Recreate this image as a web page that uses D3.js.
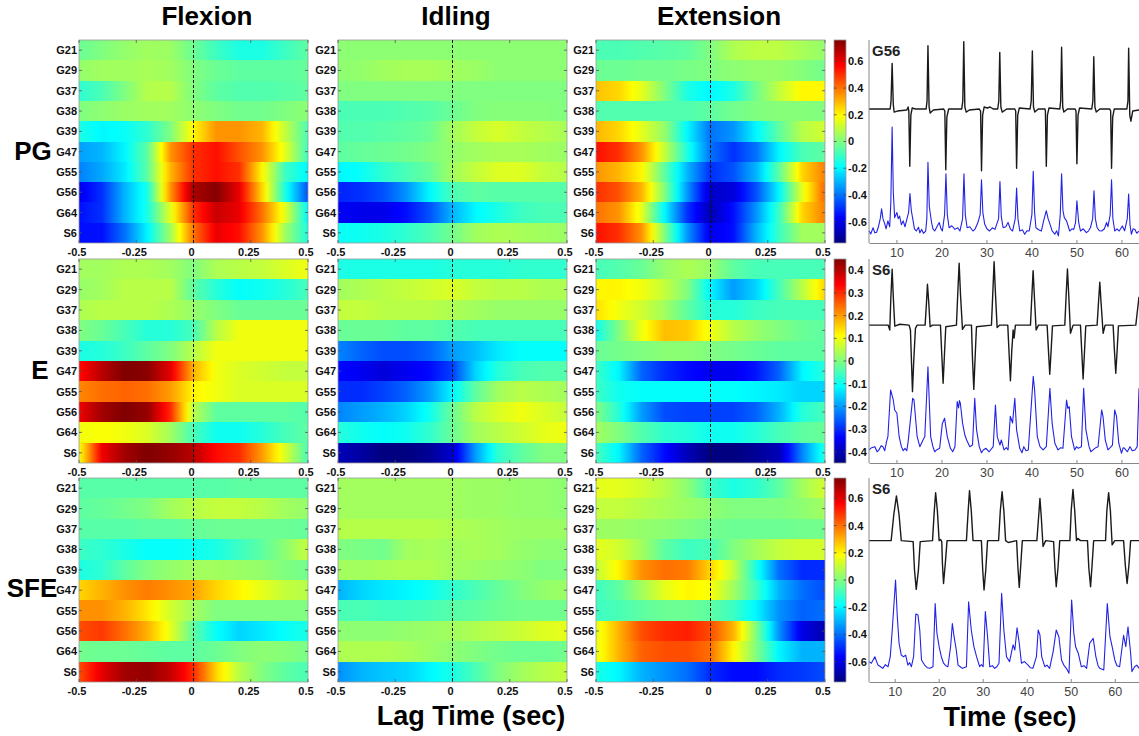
<!DOCTYPE html>
<html><head><meta charset="utf-8">
<script src="https://cdn.jsdelivr.net/npm/d3@7"></script>
<style>body{margin:0;background:#fff}svg{display:block}</style>
</head><body>
<svg id="chart" width="1139" height="736"></svg>
<script>
// ---------------- DATA ----------------
const channels = ["G21","G29","G37","G38","G39","G47","G55","G56","G64","S6"];
const lags = [-0.5,-0.4,-0.3,-0.2,-0.1,0,0.1,0.2,0.3,0.4,0.5];
const lagTicks = [-0.5,-0.25,0,0.25,0.5];
const conditions = ["Flexion","Idling","Extension"];
const groups = ["PG","E","SFE"];
const colorLimits = [0.76, 0.45, 0.75];
const colorbarTicks = [
  [-0.6,-0.4,-0.2,0,0.2,0.4,0.6],
  [-0.4,-0.3,-0.2,-0.1,0,0.1,0.2,0.3,0.4],
  [-0.6,-0.4,-0.2,0,0.2,0.4,0.6]
];
const timeTicks = [10,20,30,40,50,60];
const traceNames = ["G56","S6","S6"];

// PG row
const pgFlexion = [
  [-0.03,0,0.03,0.05,0.04,-0.03,-0.1,-0.15,-0.15,-0.1,-0.05],
  [0.03,0.05,0.05,0.06,0.05,0,-0.03,-0.05,-0.05,-0.05,-0.04],
  [-0.12,-0.08,0,0.08,0.08,0,-0.05,-0.07,-0.07,-0.06,-0.05],
  [0,0.02,0.04,0.05,0.05,0.02,0,-0.02,-0.02,0,0.02],
  [-0.15,-0.2,-0.18,-0.12,0.0,0.2,0.35,0.35,0.3,0.1,-0.08],
  [-0.33,-0.3,-0.2,-0.05,0.35,0.5,0.55,0.45,0.35,0.15,-0.1],
  [-0.38,-0.32,-0.22,-0.05,0.3,0.5,0.55,0.5,0.2,-0.1,-0.2],
  [-0.6,-0.5,-0.3,-0.15,0.35,0.7,0.75,0.6,0.25,-0.15,-0.45],
  [-0.55,-0.5,-0.3,-0.15,0.15,0.5,0.65,0.6,0.4,0.15,-0.2],
  [-0.55,-0.55,-0.4,-0.2,0.05,0.4,0.6,0.55,0.35,0.05,-0.15]
];
const pgIdling = [
  [0.02,0.02,0.02,0.02,0.02,0.02,0.02,0.02,0.02,0.02,0.02],
  [0.02,0.03,0.05,0.06,0.06,0.05,0.04,0.02,0.02,0.02,0.02],
  [0,0,0,0,0,0,0,0,0,0,0],
  [-0.08,-0.08,-0.08,-0.07,-0.06,-0.03,0,0.01,0.01,0.01,0],
  [-0.07,-0.07,-0.06,-0.05,-0.03,0.05,0.1,0.13,0.1,0.08,0.06],
  [-0.05,-0.04,-0.03,-0.02,0,0.03,0.05,0.06,0.06,0.05,0.04],
  [-0.2,-0.18,-0.12,-0.08,-0.04,0.05,0.1,0.14,0.14,0.1,0.08],
  [-0.52,-0.5,-0.45,-0.35,-0.2,-0.08,-0.05,-0.06,-0.06,-0.06,-0.06],
  [-0.58,-0.6,-0.6,-0.55,-0.45,-0.3,-0.2,-0.15,-0.1,-0.08,-0.08],
  [-0.18,-0.17,-0.15,-0.12,-0.08,-0.02,0.05,0.07,0.06,0.05,0.04]
];
const pgExtension = [
  [-0.08,-0.08,-0.07,-0.06,-0.05,0,0.07,0.09,0.09,0.06,0.03],
  [-0.03,-0.03,-0.02,-0.02,-0.01,0,0.02,0.03,0.03,0.01,-0.02],
  [0.28,0.25,0.15,0,-0.15,-0.2,-0.15,-0.02,0.1,0.2,0.2],
  [-0.07,-0.07,-0.07,-0.07,-0.07,-0.05,-0.02,0,0.01,0.01,0],
  [0.3,0.25,0.15,0.03,-0.2,-0.4,-0.35,-0.2,-0.05,0.08,0.12],
  [0.55,0.5,0.35,0.1,-0.15,-0.4,-0.5,-0.4,-0.2,-0.08,-0.05],
  [0.35,0.3,0.2,-0.05,-0.3,-0.5,-0.45,-0.3,-0.05,0.25,0.38],
  [0.5,0.45,0.3,0,-0.35,-0.65,-0.62,-0.45,-0.2,0.15,0.42],
  [0.4,0.35,0.15,-0.2,-0.5,-0.68,-0.55,-0.35,-0.1,0.25,0.38],
  [0.55,0.5,0.35,0,-0.35,-0.6,-0.55,-0.3,-0.1,0.05,0.05]
];
// E row
const eFlexion = [
  [0.03,0.03,0.04,0.04,0.03,0,0.04,0.05,0.06,0.08,0.1],
  [0.02,0.03,0.05,0.05,0.05,-0.03,-0.08,-0.11,-0.1,-0.08,-0.05],
  [0.04,0.05,0.05,0.05,0.04,0.02,0,-0.02,-0.02,-0.02,-0.02],
  [0,-0.02,-0.05,-0.08,-0.08,-0.05,0.05,0.1,0.1,0.1,0.1],
  [-0.09,-0.08,-0.06,-0.03,0,0.05,0.1,0.1,0.1,0.1,0.1],
  [0.33,0.4,0.45,0.44,0.36,0.18,0.1,0.08,0.07,0.06,0.06],
  [0.22,0.24,0.25,0.24,0.2,0.12,0.1,0.08,0.08,0.08,0.08],
  [0.35,0.42,0.45,0.43,0.3,0.05,-0.03,-0.03,-0.03,-0.03,-0.04],
  [0.1,0.11,0.1,0.08,0.03,-0.05,-0.1,-0.1,-0.08,-0.05,-0.03],
  [0.1,0.35,0.42,0.45,0.43,0.4,0.33,0.3,0.2,0.08,-0.05]
];
const eIdling = [
  [-0.09,-0.09,-0.09,-0.09,-0.09,-0.08,-0.08,-0.08,-0.07,-0.07,-0.07],
  [0.03,0.04,0.05,0.06,0.07,0.08,0.06,0.05,0.05,0.04,0.04],
  [0.06,0.06,0.05,0.05,0.05,0.04,0.03,0.02,0.02,0.02,0.02],
  [-0.02,-0.02,-0.02,-0.03,-0.03,-0.04,-0.05,-0.05,-0.05,-0.05,-0.05],
  [-0.22,-0.25,-0.27,-0.27,-0.25,-0.2,-0.17,-0.13,-0.11,-0.11,-0.11],
  [-0.33,-0.35,-0.37,-0.35,-0.33,-0.28,-0.15,-0.08,-0.05,-0.04,-0.04],
  [-0.3,-0.3,-0.28,-0.25,-0.2,-0.12,-0.03,0.03,0.05,0.04,0.03],
  [-0.22,-0.2,-0.18,-0.15,-0.1,-0.02,0.05,0.08,0.1,0.08,0.06],
  [-0.08,-0.1,-0.11,-0.1,-0.07,-0.02,0.03,0.05,0.07,0.09,0.1],
  [-0.4,-0.42,-0.45,-0.45,-0.43,-0.38,-0.2,-0.07,-0.03,0,0]
];
const eExtension = [
  [-0.05,-0.04,-0.02,0.02,0.04,0.02,-0.03,-0.05,-0.05,-0.05,-0.05],
  [0.12,0.12,0.1,0.06,0,-0.12,-0.2,-0.15,-0.05,0.05,0.15],
  [0.14,0.1,0.07,0.03,-0.03,-0.08,-0.08,-0.06,-0.05,-0.05,-0.05],
  [-0.1,0,0.1,0.17,0.16,0.1,0.05,0.02,0,-0.02,-0.03],
  [-0.02,-0.01,0,0.01,0.01,0,-0.01,-0.02,-0.03,-0.03,-0.03],
  [-0.06,-0.12,-0.25,-0.3,-0.33,-0.35,-0.35,-0.32,-0.25,-0.12,-0.08],
  [-0.06,-0.1,-0.11,-0.11,-0.11,-0.11,-0.11,-0.12,-0.13,-0.15,-0.15],
  [0,-0.08,-0.2,-0.27,-0.28,-0.28,-0.28,-0.25,-0.18,-0.08,-0.05],
  [0.03,0,-0.04,-0.07,-0.08,-0.1,-0.1,-0.08,-0.05,-0.03,-0.02],
  [-0.05,-0.12,-0.25,-0.33,-0.4,-0.45,-0.45,-0.43,-0.4,-0.22,-0.08]
];
// SFE row
const sfeFlexion = [
  [-0.06,-0.06,-0.06,-0.06,-0.06,-0.06,-0.06,-0.05,-0.05,-0.05,-0.05],
  [-0.05,-0.04,-0.02,0,0.05,0.08,0.1,0.1,0.08,0.05,0.03],
  [-0.06,-0.06,-0.06,-0.05,-0.05,-0.04,-0.03,-0.03,-0.03,-0.03,-0.04],
  [-0.1,-0.12,-0.15,-0.18,-0.18,-0.17,-0.15,-0.1,-0.05,0.02,0.1],
  [-0.15,-0.12,-0.05,0,0.03,0.05,0.05,0.04,0.03,0,-0.02],
  [0.25,0.3,0.35,0.38,0.35,0.32,0.25,0.2,0.15,0.1,0.08],
  [0.35,0.35,0.3,0.22,0.12,0.05,0,0,0,0,0],
  [0.45,0.48,0.4,0.3,0.15,-0.05,-0.18,-0.25,-0.22,-0.18,-0.15],
  [-0.02,-0.03,-0.03,-0.04,-0.05,-0.05,-0.03,0,0.02,0.01,-0.01],
  [0.45,0.6,0.7,0.72,0.65,0.5,0.25,0.08,0,-0.05,-0.08]
];
const sfeIdling = [
  [0.05,0.05,0.05,0.05,0.05,0.05,0.04,0.04,0.03,0.03,0.02],
  [0.05,0.05,0.05,0.05,0.05,0.05,0.04,0.04,0.03,0.03,0.02],
  [0.08,0.08,0.08,0.08,0.08,0.07,0.06,0.05,0.04,0.04,0.04],
  [0,-0.01,-0.02,0.05,0.06,0.05,0.06,0.05,0.03,0.02,0.02],
  [0.05,0.05,0.06,0.07,0.07,0.05,0.04,0.03,0.02,0,0],
  [-0.3,-0.25,-0.22,-0.2,-0.17,-0.12,-0.08,-0.04,0,0.03,0.04],
  [-0.08,-0.08,-0.09,-0.09,-0.08,-0.06,-0.05,-0.03,-0.02,-0.02,-0.02],
  [0.02,0.02,0.02,0.03,0.04,0.05,0.07,0.09,0.11,0.14,0.15],
  [0.07,0.07,0.07,0.06,0.04,0.02,0,-0.02,-0.03,-0.03,-0.02],
  [-0.35,-0.3,-0.27,-0.25,-0.2,-0.15,-0.08,0,0.05,0.08,0.1]
];
const sfeExtension = [
  [0.15,0.15,0.12,0.08,0.02,-0.1,-0.15,-0.12,-0.05,0.05,0.12],
  [0.1,0.1,0.08,0.06,0.04,0.02,0,0,0,0.02,0.05],
  [0.04,0.04,0.03,0.02,0,-0.02,-0.03,-0.03,-0.03,-0.02,-0.02],
  [0.15,0.12,0.05,-0.05,-0.1,-0.08,0,0.05,0.1,0.12,0.12],
  [0.1,0.2,0.35,0.4,0.38,0.25,0.1,-0.15,-0.4,-0.5,-0.5],
  [-0.1,-0.05,0.05,0.15,0.2,0.18,0.05,-0.1,-0.3,-0.4,-0.45],
  [-0.1,-0.08,-0.05,-0.03,-0.03,-0.05,-0.1,-0.2,-0.35,-0.42,-0.4],
  [0.15,0.3,0.45,0.5,0.52,0.45,0.3,0,-0.35,-0.6,-0.68],
  [0.15,0.3,0.42,0.45,0.45,0.4,0.2,0,-0.2,-0.3,-0.3],
  [-0.15,-0.2,-0.3,-0.35,-0.4,-0.5,-0.55,-0.55,-0.5,-0.48,-0.45]
];

// Time traces: [time (sec), amplitude (arbitrary units 0-100)]
const pgTimeDomain = [3.9, 63.9];
const eTimeDomain = [3.9, 63.9];
const sfeTimeDomain = [4.17, 65.5];

const pgBlack = [[3.9,66],[8.6,66],[8.8,70],[9.04,88.5],[9.3,68],[9.5,64.5],[10.2,65],[12.3,65.5],[12.6,67],[12.75,65],[12.96,37.8],[13.2,63],[13.5,66.5],[14.2,66],[16.6,66],[16.8,70],[17.0,97.2],[17.25,67],[17.5,64],[18.2,65.5],[20.5,66],[20.75,65],[20.96,36.1],[21.2,62],[21.6,66],[24.5,66],[24.75,70],[24.96,99.2],[25.2,67],[25.5,64.5],[26.2,65.5],[28.4,66],[28.7,65],[28.9,35.6],[29.15,63],[29.5,67],[30.2,66.5],[30.8,67],[31.5,66],[32.5,66],[32.75,70],[32.96,93.9],[33.2,67],[33.5,64.5],[34.5,66],[36.3,66],[36.5,65],[36.7,36.8],[36.95,63],[37.3,66.5],[39.7,66],[39.95,70],[40.2,94.6],[40.45,67],[40.75,64.5],[41.5,66],[43.0,66],[43.1,65],[43.3,37.8],[43.55,63],[43.9,66.5],[46.3,66],[46.5,70],[46.7,96.4],[46.95,67],[47.2,64.5],[48.0,66],[49.7,66],[49.9,65],[50.1,39],[50.35,63],[50.7,66.5],[53.4,66],[53.65,70],[53.85,91.8],[54.1,67],[54.4,64.5],[55.2,66],[57.4,66],[57.6,65],[57.8,36.8],[58.05,62],[58.4,66],[61.2,66],[61.45,70],[61.6,95.9],[61.85,63],[62.1,60],[62.5,65],[63.9,65.5]];
const pgBlue = [[3.9,6],[4.3,4.5],[4.8,7.5],[5.2,5],[5.6,5.3],[6.0,8],[6.4,12],[6.7,16.8],[7.0,12],[7.4,9.4],[7.7,7],[8.1,10.9],[8.5,8],[8.75,20],[9.04,57.1],[9.3,25],[9.6,12.5],[10.1,15.0],[10.4,12],[10.7,13.3],[11.1,9],[11.5,10.9],[11.9,8],[12.4,12.5],[12.7,15],[13.0,24.4],[13.3,16],[13.7,10.9],[14.0,7],[14.4,5.9],[14.9,7.8],[15.2,5],[15.6,6.7],[16.0,4.8],[16.5,5.9],[16.75,12],[17.0,39.8],[17.3,18],[17.8,10.1],[18.1,7],[18.5,5.9],[19.0,8],[19.5,10.1],[19.9,7],[20.2,5.9],[20.7,14],[21.0,34.1],[21.3,14],[21.7,7.5],[22.3,8.5],[23.0,6.7],[23.6,7.5],[24.1,5.9],[24.7,12],[25.0,34.1],[25.3,14],[25.7,7.5],[26.3,8],[27.0,5.9],[27.5,7],[28.1,10.1],[28.6,14],[28.9,31.1],[29.2,15],[29.6,9.4],[30.1,7],[30.7,5.9],[31.3,7.5],[31.9,6.7],[32.7,12],[33.0,30.3],[33.3,13],[33.7,7.5],[34.3,8],[34.8,10.1],[35.3,7],[35.8,5.9],[36.4,12],[36.7,27.1],[37.0,12],[37.4,5.9],[38.0,6.5],[38.5,4.3],[39.0,6],[39.5,5.9],[40.1,14],[40.4,35.3],[40.7,15],[41.0,7.5],[41.6,6.5],[42.2,5.9],[42.7,10.9],[43.3,15.9],[43.7,12],[44.1,9.4],[44.6,6],[45.2,4.3],[45.6,6],[46.0,3.5],[46.4,14],[46.7,34.1],[47.0,16],[47.3,12.5],[47.8,10.9],[48.2,8],[48.5,5.9],[49.0,7],[49.4,6.7],[49.8,10],[50.1,20.8],[50.5,10],[50.9,5.9],[51.5,7],[52.2,5.1],[52.7,6],[53.1,7.5],[53.6,12],[53.9,25.7],[54.2,12],[54.6,7.5],[55.1,6],[55.6,5.9],[56.2,7],[56.7,10.1],[57.0,8],[57.5,14],[57.8,31.1],[58.1,12],[58.5,5.9],[59.0,7],[59.5,5.9],[60.2,8.4],[60.7,6],[61.3,12],[61.6,24.1],[61.9,9],[62.2,4.3],[62.6,7],[63.0,6.7],[63.4,4.8],[63.9,5.9]];

const eBlack = [[3.9,67.6],[8.15,67.6],[8.52,65.2],[8.74,80],[9.04,95],[9.33,80],[9.63,67.1],[10.74,68],[12.81,67.6],[13.11,65.2],[13.33,50.4],[13.56,35],[13.85,50.4],[14.22,66],[14.59,67.6],[16.37,67.6],[16.67,78.3],[16.89,87.6],[17.19,78.3],[17.48,66.8],[18.0,67.6],[19.78,67.6],[20.07,53.3],[20.37,39.1],[20.67,53.3],[20.96,66.8],[23.33,67.6],[23.63,83.2],[23.93,97.9],[24.22,83.2],[24.67,65.5],[25.26,67.6],[26.67,67.6],[26.89,51.6],[27.19,36.1],[27.48,51.6],[27.78,66.8],[31.11,67.6],[31.41,83.2],[31.70,98.7],[32.0,83.2],[32.37,66.4],[32.96,67.6],[34.74,67.6],[35.04,53.3],[35.33,40.3],[35.63,55.1],[35.93,65.2],[36.15,61.3],[36.44,67.6],[39.78,67.6],[40.07,80.9],[40.37,94.3],[40.67,80.9],[41.04,65.2],[41.56,67.6],[43.48,67.6],[43.78,55.1],[44.07,43.5],[44.37,55.1],[44.67,67.2],[47.41,67.6],[47.70,81.7],[48.0,95.1],[48.30,81.7],[48.67,63.6],[49.26,67.6],[50.89,67.6],[51.19,54.2],[51.48,41.2],[51.78,54.2],[52.07,67.2],[54.59,67.6],[54.89,78.3],[55.19,88.6],[55.48,78.3],[55.93,63.6],[56.37,67.6],[58.15,67.6],[58.44,55.1],[58.74,44],[59.04,55.1],[59.33,67.2],[63.19,67.6],[63.56,74.9],[63.9,81.5]];
const eBlue = [[3.9,6.4],[4.5,7.5],[5.2,8.0],[5.7,5.5],[6.1,6.4],[6.6,8.5],[7.0,8.0],[7.4,6],[7.8,10.5],[8.1,12.9],[8.7,35.8],[9.3,30.9],[9.6,26.0],[10.1,24.4],[10.6,12.9],[11.1,8.0],[11.5,6],[11.9,7.2],[12.3,6],[12.6,10.5],[13.6,31.7],[13.9,30.9],[14.6,12.9],[15.2,8.0],[15.9,11.3],[16.3,12.9],[17.0,47.2],[17.6,12.9],[18.1,8.0],[18.5,5.5],[18.9,6.4],[19.6,7.2],[20.2,19.4],[20.7,21.9],[21.3,12.9],[22.0,7.2],[22.5,5.5],[23.0,8.0],[23.5,30.1],[23.8,27],[24.0,30.6],[24.2,29.3],[24.7,19.4],[25.2,13.7],[25.6,11.3],[26.3,8.0],[26.9,8.8],[27.4,31.7],[27.8,16.2],[28.4,8.0],[28.9,5],[29.3,6.4],[29.9,7.2],[30.6,5.5],[31.5,8.0],[32.0,28.4],[32.4,12.9],[33.0,8.8],[33.3,11.3],[33.9,6.4],[34.4,7.5],[34.8,6.4],[35.3,22.9],[35.8,19.6],[36.3,31.7],[36.7,16.2],[37.4,7.2],[37.9,5],[38.3,8.0],[38.8,6],[39.3,6.4],[40.4,42.5],[40.7,35.8],[41.3,12.9],[41.9,8.0],[42.6,6.4],[43.3,8.0],[44.1,36.6],[44.6,19.4],[45.2,9.7],[45.9,6.4],[46.5,7.5],[47.0,7.2],[47.8,30.9],[48.1,26.8],[48.4,27.6],[48.9,12.9],[49.6,6.4],[50.0,8],[50.4,7.2],[51.1,8],[51.6,36.6],[52.1,16.2],[52.8,8.0],[53.2,5.5],[53.7,6.4],[54.3,7.5],[54.8,8.0],[55.6,26.0],[55.9,22.9],[56.4,11.3],[57.0,6.4],[57.5,7.5],[58.0,8.8],[58.5,26.0],[58.9,22.9],[59.4,9.7],[60.0,4.8],[60.4,7.5],[60.7,7.2],[61.3,5.5],[61.9,8.0],[62.4,6],[63.0,6.4],[63.5,8],[63.9,36.6]];

const sfeBlack = [[4.17,69.3],[9.2,69.3],[9.8,82],[10.4,91.2],[11.0,82],[11.5,69.3],[14.2,68.8],[14.5,55],[14.9,45.4],[15.4,55],[15.8,68.8],[18.6,69.3],[19.0,84],[19.3,92.8],[19.7,84],[20.1,69.3],[20.4,69.9],[20.7,68.8],[20.85,58],[21.1,48.3],[21.5,58],[21.9,69.3],[26.3,69.3],[26.7,84],[27.0,93.8],[27.4,84],[27.8,69.3],[29.7,69.3],[30.0,55],[30.3,45.1],[30.7,55],[31.1,69.3],[33.6,69.3],[34.0,84],[34.4,93.3],[34.8,84],[35.2,69.3],[35.8,68.4],[37.7,69.3],[38.0,56],[38.3,46.4],[38.6,56],[39.0,69.3],[42.3,69.3],[42.7,81],[43.0,90],[43.3,81],[43.7,66.4],[44.3,69.3],[46.1,68.8],[46.4,56],[46.7,46.7],[47.1,56],[47.5,69.3],[49.8,69.3],[50.1,84],[50.5,94.4],[50.9,84],[51.3,69.3],[51.6,70.4],[52.2,69.3],[53.8,69.3],[54.1,56],[54.5,46.7],[54.8,56],[55.2,69.3],[57.9,69.3],[58.2,84],[58.6,92.8],[59.0,84],[59.4,67.2],[60.0,69.3],[62.0,69.3],[62.4,57],[62.8,48.3],[63.2,57],[63.6,69.3],[65.5,69.3]];
const sfeBlue = [[4.17,10],[4.7,9.2],[5.5,12.4],[6.2,8.3],[6.8,7.5],[7.3,6.7],[7.9,8.5],[8.5,7.5],[9.0,12.4],[9.5,27.1],[10.2,50],[10.6,32],[11.0,19],[11.5,13.2],[12.0,12.4],[12.5,13.2],[13.0,8.3],[13.4,9.5],[13.8,7.5],[14.3,12.4],[14.8,33.3],[15.3,32.8],[15.7,25.5],[16.1,10.8],[16.8,8.3],[17.4,7],[18.0,6.7],[18.7,7.5],[19.2,38.5],[19.6,23.9],[20.1,17.3],[20.6,12.4],[21.1,9.2],[21.6,8],[22.1,7.5],[22.7,17.3],[23.1,28.7],[23.5,22.2],[24.0,15.7],[24.4,8.3],[24.9,7.5],[25.4,6.7],[26.3,7.5],[26.8,39.3],[27.4,25.5],[28.0,17.3],[28.6,12.4],[29.3,7.5],[29.7,8.5],[30.1,7.5],[30.6,34.5],[31.1,22.2],[31.6,7.5],[32.2,8],[32.7,6.7],[33.2,7.5],[33.7,9.2],[34.3,43.5],[34.8,25.5],[35.4,12.4],[36.1,10],[36.9,18.2],[37.3,15.7],[37.8,26.6],[38.3,19],[38.8,9.2],[39.5,10],[40.3,8.3],[40.8,7],[41.4,6.7],[42.2,12.4],[42.6,25.5],[43.0,23.1],[43.4,12.4],[44.1,7.5],[44.6,8.3],[45.2,6.7],[46.0,14.9],[46.7,25.5],[47.3,22.2],[47.9,10.8],[48.5,8],[49.0,6.7],[49.6,4.3],[50.2,40.2],[50.7,23.9],[51.1,17.3],[51.7,14.1],[52.4,7.5],[53.0,8],[53.6,6.7],[54.3,19],[55.1,21.4],[55.7,12.4],[56.2,8],[56.6,6.7],[57.5,5.9],[58.3,38.5],[58.9,22.2],[59.4,17.3],[60.0,10.8],[60.5,8],[61.1,7.5],[62.0,22.9],[62.5,17.3],[63.0,27.1],[63.6,14.1],[63.9,5.1],[64.5,7.5],[65.0,8.3],[65.5,6.7]];

// ---------------- LAYOUT ----------------
const svg = d3.select("#chart");
const heatX = [[79,308],[338,567],[596,825]];
const rowY = [[40,243],[259,463],[478,682]];
const cbX = [834,846];
const tsX = [869,1139];
const FONT = "Arial, 'Liberation Sans', Helvetica, sans-serif";

function jet(t){
  t = Math.max(0, Math.min(1, t));
  const c = x => Math.max(0, Math.min(1, x));
  const r = c(Math.min(4*t-1.5, -4*t+4.5));
  const g = c(Math.min(4*t-0.5, -4*t+3.5));
  const b = c(Math.min(4*t+0.5, -4*t+2.5));
  return d3.rgb(r*255, g*255, b*255).formatHex();
}

const defs = svg.append("defs");
const heatData = [[pgFlexion,pgIdling,pgExtension],[eFlexion,eIdling,eExtension],[sfeFlexion,sfeIdling,sfeExtension]];
const traces = [[pgBlack,pgBlue],[eBlack,eBlue],[sfeBlack,sfeBlue]];
const timeDomains = [pgTimeDomain, eTimeDomain, sfeTimeDomain];

heatData.forEach((panels, ri) => {
  const L = colorLimits[ri];
  const color = d3.scaleSequential(jet).domain([-L, L]);
  const y = d3.scaleBand().domain(channels).range(rowY[ri]);
  const [top, bottom] = rowY[ri];

  panels.forEach((mat, ci) => {
    const x = d3.scaleLinear().domain([-0.5, 0.5]).range(heatX[ci]);
    const g = svg.append("g");
    const span = x(0.5) - x(-0.5);
    mat.forEach((vals, k) => {
      const id = `grad-${ri}-${ci}-${k}`;
      const stops = [];
      for (let i = 0; i < lags.length; i++) {
        stops.push([lags[i], vals[i]]);
        if (i < lags.length - 1) {
          for (let s = 1; s < 5; s++) {
            const f = s / 5;
            stops.push([lags[i] + (lags[i+1]-lags[i])*f, vals[i] + (vals[i+1]-vals[i])*f]);
          }
        }
      }
      defs.append("linearGradient").attr("id", id)
        .attr("gradientUnits", "userSpaceOnUse")
        .attr("x1", x(-0.5)).attr("x2", x(0.5)).attr("y1", 0).attr("y2", 0)
        .selectAll("stop").data(stops).join("stop")
        .attr("offset", d => (x(d[0]) - x(-0.5)) / span)
        .attr("stop-color", d => color(d[1]));
      g.append("rect")
        .attr("class", "cell")
        .attr("x", x(-0.5)).attr("y", y(channels[k]))
        .attr("width", span).attr("height", y.bandwidth())
        .attr("shape-rendering", "crispEdges")
        .attr("fill", `url(#${id})`);
    });
    // frame
    g.append("rect").attr("x", x(-0.5)).attr("y", top).attr("width", span).attr("height", bottom-top)
      .attr("fill", "none").attr("stroke", "#9a9a9a").attr("stroke-width", 0.8);
    // ticks
    lagTicks.forEach(t => {
      g.append("line").attr("x1", x(t)).attr("x2", x(t)).attr("y1", top).attr("y2", top+3).attr("stroke", "#555").attr("stroke-width", 0.8);
      g.append("line").attr("x1", x(t)).attr("x2", x(t)).attr("y1", bottom).attr("y2", bottom-3).attr("stroke", "#555").attr("stroke-width", 0.8);
    });
    channels.forEach(ch => {
      const cy = y(ch) + y.bandwidth()/2;
      g.append("line").attr("x1", x(-0.5)).attr("x2", x(-0.5)+3).attr("y1", cy).attr("y2", cy).attr("stroke", "#555").attr("stroke-width", 0.8);
      g.append("line").attr("x1", x(0.5)).attr("x2", x(0.5)-3).attr("y1", cy).attr("y2", cy).attr("stroke", "#555").attr("stroke-width", 0.8);
    });
    // dashed zero-lag line
    g.append("line").attr("x1", x(0)).attr("x2", x(0)).attr("y1", top).attr("y2", bottom)
      .attr("stroke", "#111").attr("stroke-width", 1).attr("stroke-dasharray", "3,2");
    // y labels
    g.selectAll("text.yl").data(channels).join("text").attr("class", "yl")
      .attr("x", x(-0.5) - 2).attr("y", d => y(d) + y.bandwidth()/2)
      .attr("dy", "0.36em").attr("text-anchor", "end")
      .attr("font-family", FONT).attr("font-weight", "bold").attr("font-size", 11).attr("fill", "#111")
      .text(d => d);
    // x labels
    g.selectAll("text.xl").data(lagTicks).join("text").attr("class", "xl")
      .attr("x", d => x(d) - 2).attr("y", bottom + 13)
      .attr("text-anchor", "middle")
      .attr("font-family", FONT).attr("font-weight", "bold").attr("font-size", 11).attr("fill", "#111")
      .text(d => d === 0 ? "0" : String(d));
  });

  // colorbar
  const cy = d3.scaleLinear().domain([-L, L]).range([bottom, top]);
  const cid = `cbar-${ri}`;
  const cstops = d3.range(0, 1.0001, 1/32);
  defs.append("linearGradient").attr("id", cid)
    .attr("x1", 0).attr("x2", 0).attr("y1", 1).attr("y2", 0)
    .selectAll("stop").data(cstops).join("stop")
    .attr("offset", d => d).attr("stop-color", d => jet(d));
  svg.append("rect").attr("x", cbX[0]).attr("y", top).attr("width", cbX[1]-cbX[0]).attr("height", bottom-top)
    .attr("fill", `url(#${cid})`).attr("stroke", "#9a9a9a").attr("stroke-width", 0.8);
  colorbarTicks[ri].forEach(v => {
    svg.append("line").attr("x1", cbX[1]).attr("x2", cbX[1]-2.5).attr("y1", cy(v)).attr("y2", cy(v)).attr("stroke", "#444").attr("stroke-width", 0.8);
    svg.append("line").attr("x1", cbX[0]).attr("x2", cbX[0]+2.5).attr("y1", cy(v)).attr("y2", cy(v)).attr("stroke", "#444").attr("stroke-width", 0.8);
  });
  svg.append("g").selectAll("text").data(colorbarTicks[ri]).join("text")
    .attr("x", cbX[1] + 2).attr("y", d => cy(d)).attr("dy", "0.36em")
    .attr("font-family", FONT).attr("font-weight", "bold").attr("font-size", 11).attr("fill", "#111")
    .text(d => String(d));

  // time-series panel
  const tx = d3.scaleLinear().domain(timeDomains[ri]).range(tsX);
  const ty = d3.scaleLinear().domain([0, 100]).range([bottom, top]);
  const tg = svg.append("g");
  const line = d3.line().x(d => tx(d[0])).y(d => ty(d[1]));
  tg.append("path").datum(traces[ri][1]).attr("d", line).attr("fill", "none")
    .attr("stroke", "#2222e6").attr("stroke-width", 1.1).attr("stroke-linejoin", "round");
  tg.append("path").datum(traces[ri][0]).attr("d", line).attr("fill", "none")
    .attr("stroke", "#1a1a1a").attr("stroke-width", 1.4).attr("stroke-linejoin", "round");
  tg.append("line").attr("x1", tsX[0]).attr("x2", tsX[0]).attr("y1", top).attr("y2", bottom).attr("stroke", "#888").attr("stroke-width", 1);
  const axis = d3.axisBottom(tx).tickValues(timeTicks).tickSize(-3).tickSizeOuter(0).tickPadding(5);
  const ag = tg.append("g").attr("transform", `translate(0,${bottom})`).call(axis);
  ag.select(".domain").attr("stroke", "#888");
  ag.selectAll(".tick line").attr("stroke", "#888");
  ag.selectAll(".tick text").attr("font-family", FONT).attr("font-size", 12.5).attr("fill", "#444");
  tg.append("text").attr("x", 872).attr("y", top + 16)
    .attr("font-family", FONT).attr("font-weight", "bold").attr("font-size", 15).attr("fill", "#222")
    .text(traceNames[ri]);

  // row label
  const rl = [{x:33,y:160},{x:40,y:379},{x:32,y:597}][ri];
  svg.append("text").attr("x", rl.x).attr("y", rl.y).attr("text-anchor", "middle")
    .attr("font-family", FONT).attr("font-weight", "bold").attr("font-size", 26).attr("fill", "#000")
    .text(groups[ri]);
});

// column titles
const titleX = [207, 456, 719];
svg.append("g").selectAll("text").data(conditions).join("text")
  .attr("x", (d,i) => titleX[i]).attr("y", 25).attr("text-anchor", "middle")
  .attr("font-family", FONT).attr("font-weight", "bold").attr("font-size", 26).attr("fill", "#000")
  .text(d => d);
svg.append("text").attr("x", 471).attr("y", 725).attr("text-anchor", "middle")
  .attr("font-family", FONT).attr("font-weight", "bold").attr("font-size", 27).attr("fill", "#000")
  .text("Lag Time (sec)");
svg.append("text").attr("x", 1010).attr("y", 726).attr("text-anchor", "middle")
  .attr("font-family", FONT).attr("font-weight", "bold").attr("font-size", 27).attr("fill", "#000")
  .text("Time (sec)");
</script>
</body></html>
